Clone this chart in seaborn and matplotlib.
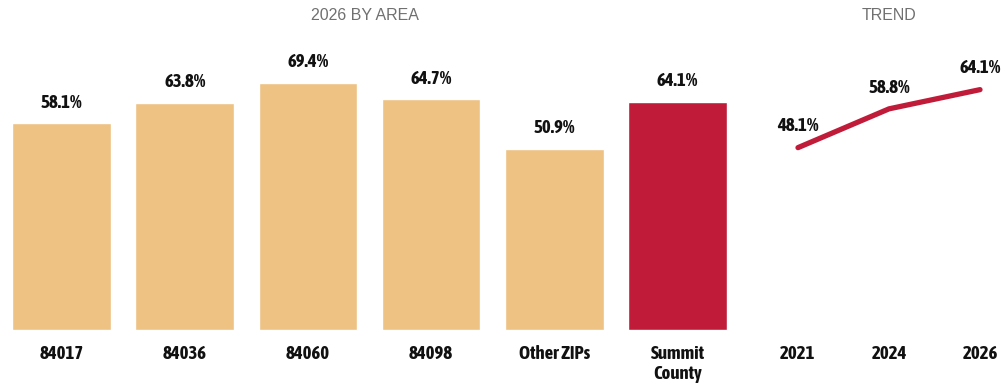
import matplotlib
matplotlib.use("Agg")
import matplotlib.pyplot as plt
from matplotlib import font_manager
import seaborn as sns
import pandas as pd

# 2026 share by area
areas = ["84017", "84036", "84060", "84098", "Other ZIPs", "Summit\nCounty"]
area_values = [58.1, 63.8, 69.4, 64.7, 50.9, 64.1]

# Trend for Summit County
years = ["2021", "2024", "2026"]
trend_values = [48.1, 58.8, 64.1]

TAN = "#EDC283"
RED = "#C01C3A"
GRAY = "#707070"
INK = "#111111"

sns.set_theme(style="white")


def _weight(w):
    if isinstance(w, str):
        return font_manager.weight_dict.get(w, 400)
    return int(w)


# Prefer a condensed sans that ships a bold face
bold_condensed = sorted({
    f.name for f in font_manager.fontManager.ttflist
    if ("Narrow" in f.name or "Condensed" in f.name) and _weight(f.weight) >= 600
})
if bold_condensed:
    pick = "Liberation Sans Narrow" if "Liberation Sans Narrow" in bold_condensed else bold_condensed[0]
    label_family = [pick, "Liberation Sans", "DejaVu Sans"]
    label_size = 13.5
else:
    label_family = ["Liberation Sans", "DejaVu Sans"]
    label_size = 12.8
plt.rcParams["font.family"] = label_family

W, H = 1007, 384
fig = plt.figure(figsize=(W / 100, H / 100), dpi=100)


def px_axes(x0, y0, x1, y1):
    return fig.add_axes([x0 / W, 1 - y1 / H, (x1 - x0) / W, (y1 - y0) / H])


# Bar panel
ax1 = px_axes(0, 40, 739, 330)
bar_df = pd.DataFrame({"area": areas, "value": area_values})
colors = [TAN] * (len(areas) - 1) + [RED]
sns.barplot(data=bar_df, x="area", y="value", hue="area", palette=colors,
            legend=False, width=0.8, ax=ax1, saturation=1)
ax1.set_ylim(0, 290 / 3.563)
ax1.set_xlim(-0.5, len(areas) - 0.5)
for i, v in enumerate(area_values):
    ax1.text(i, v + 3.2, f"{v}%", ha="center", va="bottom",
             fontsize=label_size, fontweight="bold", color=INK)
ax1.set_xlabel("")
ax1.set_ylabel("")
ax1.set_yticks([])
ax1.tick_params(axis="x", length=0, pad=11)
for lab in ax1.get_xticklabels():
    lab.set_fontsize(label_size)
    lab.set_fontweight("bold")
    lab.set_color(INK)
    lab.set_verticalalignment("top")
    lab.set_linespacing(1.1)
sns.despine(ax=ax1, left=True, bottom=True)

# Trend panel
ax2 = px_axes(755, 40, 1005, 330)
trend_df = pd.DataFrame({"year": years, "value": trend_values})
sns.lineplot(data=trend_df, x="year", y="value", color=RED, linewidth=3.8,
             solid_capstyle="round", solid_joinstyle="round", ax=ax2, sort=False)
ax2.set_xlim(-(798 - 755) / 91, 2 + (1005 - 980) / 91)
ax2.set_ylim(-8 / 3.625, (322 - 40) / 3.625)
for i, v in enumerate(trend_values):
    ax2.text(i, v + 3.4, f"{v}%", ha="center", va="bottom",
             fontsize=label_size, fontweight="bold", color=INK)
ax2.set_xlabel("")
ax2.set_ylabel("")
ax2.set_yticks([])
ax2.tick_params(axis="x", length=0, pad=11)
for lab in ax2.get_xticklabels():
    lab.set_fontsize(label_size)
    lab.set_fontweight("bold")
    lab.set_color(INK)
sns.despine(ax=ax2, left=True, bottom=True)

# Panel headings
fig.text(365 / W, 1 - 16 / H, "2026 BY AREA", ha="center", va="center",
         fontsize=11.5, color=GRAY, family=["Liberation Sans", "DejaVu Sans"])
fig.text(889 / W, 1 - 16 / H, "TREND", ha="center", va="center",
         fontsize=11.5, color=GRAY, family=["Liberation Sans", "DejaVu Sans"])

fig.savefig("out.png", dpi=100, facecolor="white")
